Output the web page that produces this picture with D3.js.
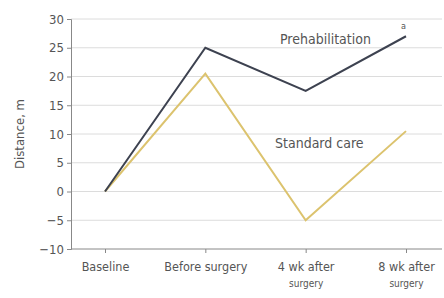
<!DOCTYPE html>
<html>
<head>
<meta charset="utf-8">
<script src="https://cdn.jsdelivr.net/npm/d3@7"></script>
<style>
  body { margin: 0; background: #fff; }
  svg text { font-family: "Liberation Sans Narrow", "DejaVu Sans Condensed", sans-serif; fill: #555; }
</style>
</head>
<body>
<div id="graph"></div>
<script>
var categories = ["Baseline", "Before surgery", "4 wk after|surgery", "8 wk after|surgery"];
var prehab = [0, 25, 17.5, 27];
var standard = [0, 20.5, -5, 10.5];
var yTicks = [-10, -5, 0, 5, 10, 15, 20, 25, 30];

var W = 444, H = 298;
var margin = { top: 19, right: 4, bottom: 49, left: 71 };

var svg = d3.select("#graph").append("svg")
  .attr("width", W).attr("height", H);

var g = svg.append("g").attr("transform", "translate(" + margin.left + "," + margin.top + ")");
var width = W - margin.left - margin.right,
  height = H - margin.top - margin.bottom;

var x = d3.scalePoint().domain(categories).range([34, 335]);
var y = d3.scaleLinear().domain([-10, 30]).range([height, 0]);

// grid
g.selectAll("line.grid").data(yTicks.slice(1)).enter().append("line")
  .attr("class", "grid")
  .attr("x1", 0).attr("x2", width + 2)
  .attr("y1", d => y(d)).attr("y2", d => y(d))
  .attr("stroke", "#dcdcdc").attr("stroke-width", 1);

// y axis
var yAxis = g.append("g").call(d3.axisLeft(y).tickValues(yTicks).tickSize(4).tickPadding(3));
yAxis.select(".domain").attr("stroke", "#888");
yAxis.selectAll(".tick line").attr("stroke", "#888");
yAxis.selectAll("text").style("font-size", "13px").attr("fill", "#555");

// x axis
var xAxis = g.append("g").attr("transform", "translate(0," + height + ")")
  .call(d3.axisBottom(x).tickSize(4).tickPadding(6).tickFormat(""));
xAxis.select(".domain").attr("d", "M0,0H" + (width + 2)).attr("stroke", "#888");
xAxis.selectAll(".tick line").attr("stroke", "#888");
xAxis.selectAll(".tick").each(function(d) {
  var parts = d.split("|");
  var t = d3.select(this).append("text")
    .attr("text-anchor", "middle")
    .attr("y", 22)
    .attr("fill", "#555");
  parts.forEach(function(p, i) {
    t.append("tspan").attr("x", 0).attr("dy", i ? 16 : 0)
      .style("font-size", i ? "10px" : "12.5px").text(p);
  });
});

// lines
var line = d3.line().x((d, i) => x(categories[i])).y(d => y(d));
g.append("path").datum(standard).attr("d", line)
  .attr("fill", "none").attr("stroke", "#dcc36e").attr("stroke-width", 2);
g.append("path").datum(prehab).attr("d", line)
  .attr("fill", "none").attr("stroke", "#3d4250").attr("stroke-width", 2);

// labels
g.append("text").attr("x", 209).attr("y", y(27) + 8)
  .style("font-size", "14px").attr("fill", "#444").text("Prehabilitation");
g.append("text").attr("x", 330).attr("y", y(28.3))
  .style("font-size", "9px").attr("fill", "#444").text("a");
g.append("text").attr("x", 204).attr("y", y(7.5))
  .style("font-size", "14px").attr("fill", "#444").text("Standard care");

// y label
svg.append("text")
  .attr("transform", "translate(24," + (margin.top + y(10)) + ") rotate(-90)")
  .attr("text-anchor", "middle")
  .style("font-size", "13px").attr("fill", "#444")
  .text("Distance, m");
</script>
</body>
</html>
